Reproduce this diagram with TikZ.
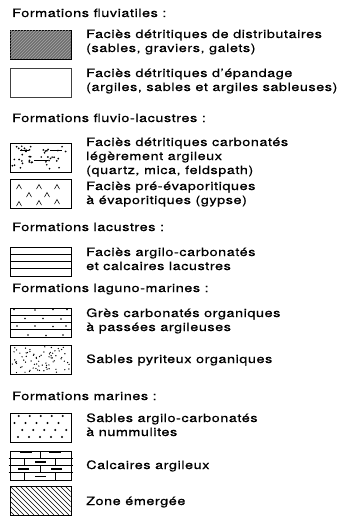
\documentclass[tikz,border=0pt]{standalone}
\usepackage{fontspec}
\setmainfont{TeX Gyre Heros}[FakeStretch=1.25,LetterSpace=5,FakeBold=0.6]
\usepackage{xcolor}
\definecolor{gravelgray}{HTML}{6E6E6E}

\begin{document}
\begin{tikzpicture}[x=1pt,y=-1pt,
      head/.style={anchor=base west, inner sep=0pt, font=\fontsize{11.5}{14}\selectfont},
      txt/.style={anchor=base west, inner sep=0pt, align=left, font=\fontsize{11.5}{14}\selectfont},
      box/.style={draw, line width=0.7pt, anchor=north west, inner sep=0pt, minimum width=61pt, minimum height=29pt},
      inbox/.style={shift={(#1.north west)}},
      thin/.style={line width=0.55pt}
    ]
    \useasboundingbox (0,0) rectangle (339,516);
    % formations fluviatiles
    \node[head] (h1) at (12,17) {Formations fluviatiles :};
    \node[box, fill=gravelgray] (b1) at (10,30) {};
    \begin{scope}[inbox=b1]
      \clip (0.4,0.4) rectangle (60.6,28.6);
      \foreach \k in {-30,-27,...,61} \draw[thin, white!65!black] (\k,29) -- (\k+29,0);
    \end{scope}
    \node[txt] (t1) at (86,52) {Faciès détritiques de distributaires\\(sables, graviers, galets)};
    \node[box, draw=black!75] (b2) at (10,68) {};
    \node[txt] (t2) at (86,91) {Faciès détritiques d’épandage\\(argiles, sables et argiles sableuses)};
    % formations fluvio-lacustres
    \node[head] (h2) at (12,122) {Formations fluvio-lacustres :};
    \node[box, line width=1pt] (b3) at (10,143) {};
    \begin{scope}[inbox=b3]
      \pgfmathsetseed{11}
      \foreach \i in {1,...,44}{
        \pgfmathsetmacro\px{2+57*rnd}\pgfmathsetmacro\py{2+25*rnd}
        \fill (\px,\py) circle (0.95pt);}
      \draw[line width=0.8pt] (10,7) -- (19,7) (40,7) -- (52,7) (24,17) -- (38,17);
    \end{scope}
    \node[txt] (t3) at (86,174) {Faciès détritiques carbonatés\\légèrement argileux\\(quartz, mica, feldspath)};
    \node[box] (b4) at (10,179) {};
    \begin{scope}[inbox=b4]
      \foreach \cx/\cy in {9/8, 29/8, 47/8, 19/16, 37/16, 9/25, 29/24, 47/23}
        \draw[thin] (\cx-2.5,\cy+2) -- (\cx,\cy-2.5) -- (\cx+2.5,\cy+2);
    \end{scope}
    \node[txt] (t4) at (86,204) {Faciès pré-évaporitiques\\à évaporitiques (gypse)};
    % formations lacustres
    \node[head] (h3) at (12,231) {Formations lacustres :};
    \node[box] (b5) at (10,247) {};
    \begin{scope}[inbox=b5]
      \foreach \ly in {7.25,14.5,21.75} \draw[thin] (0,\ly) -- (61,\ly);
    \end{scope}
    \node[txt] (t5) at (86,270) {Faciès argilo-carbonatés\\et calcaires lacustres};
    % formations laguno-marines
    \node[head] (h4) at (12,292) {Formations laguno-marines :};
    \node[box] (b6) at (10,308) {};
    \begin{scope}[inbox=b6]
      \foreach \ly in {7.25,14.5,21.75} \draw[thin] (0,\ly) -- (61,\ly);
      \foreach \cx/\cy in {4/1.5, 25/2, 43/1.5, 57/1.5, 15/10.5, 33/10.5, 51/11, 7/18, 25/18, 43/18.5, 56/18, 18/27, 36/27.5, 53/27}
        \fill (\cx,\cy) circle (0.9pt);
    \end{scope}
    \node[txt] (t6) at (86,331) {Grès carbonatés organiques\\à passées argileuses};
    \node[box] (b7) at (10,345) {};
    \begin{scope}[inbox=b7]
      \pgfmathsetseed{5}
      \foreach \i in {1,...,75}{
        \pgfmathsetmacro\px{1.5+58*rnd}\pgfmathsetmacro\py{1.5+26*rnd}
        \fill (\px,\py) circle (0.7pt);}
    \end{scope}
    \node[txt] (t7) at (86,363) {Sables pyriteux organiques};
    % formations marines
    \node[head] (h5) at (12,400) {Formations marines :};
    \node[box] (b8) at (10,413) {};
    \begin{scope}[inbox=b8]
      \foreach \ry/\off in {3/8, 10/2, 17/8, 24/2}
        \foreach \cx in {0,11,22,33,44}
          \fill (\cx+\off+\ry/4,\ry) circle (1.2pt);
    \end{scope}
    \node[txt] (t8) at (86,436) {Sables argilo-carbonatés\\à nummulites};
    \node[box] (b9) at (10,451) {};
    \begin{scope}[inbox=b9]
      \foreach \ly in {7.25,14.5,21.75} \draw[thin] (-1.5,\ly) -- (62.5,\ly);
      \draw[thin] (30,0) -- (30,7.25) (14,7.25) -- (14,14.5) (45,7.25) -- (45,14.5)
        (30,14.5) -- (30,21.75) (14,21.75) -- (14,29) (45,21.75) -- (45,29);
      \draw[line width=1.2pt] (10,1) -- (22,1) (39,1) -- (51,1) (25,11) -- (36,11)
        (8,18) -- (19,18) (41,18) -- (52,18) (25,25.5) -- (36,25.5);
    \end{scope}
    \node[txt] (t9) at (86,469) {Calcaires argileux};
    \node[box] (b10) at (10,486) {};
    \begin{scope}[inbox=b10]
      \clip (0.3,0.3) rectangle (60.7,28.7);
      \foreach \k in {-30,-25,...,62} \draw[thin] (\k,0) -- (\k+29,29);
    \end{scope}
    \node[txt] (t10) at (86,505) {Zone émergée};
  \end{tikzpicture}
\end{document}
